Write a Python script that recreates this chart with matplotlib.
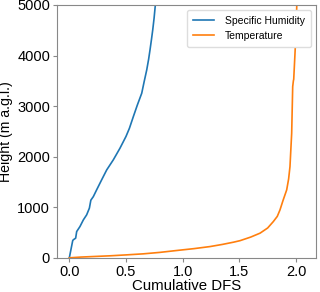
import numpy as np
import matplotlib
matplotlib.use("Agg")
import matplotlib.pyplot as plt

plt.rcParams['font.family'] = ['Liberation Sans', 'DejaVu Sans']

# cumulative DFS vs height
q_dfs = [0.0, 0.03, 0.035, 0.056, 0.065, 0.094, 0.124, 0.153, 0.177, 0.19, 0.212,
         0.241, 0.285, 0.33, 0.388, 0.447, 0.50, 0.53, 0.565, 0.60, 0.639, 0.66,
         0.683, 0.70, 0.712, 0.725, 0.736, 0.748, 0.759]
q_height = [0, 340, 356, 389, 520, 619, 751, 850, 982, 1140, 1211,
            1344, 1541, 1739, 1937, 2168, 2400, 2560, 2793, 3020, 3255, 3480,
            3715, 3930, 4111, 4320, 4506, 4740, 5000]

t_dfs = [0.0, 0.1, 0.359, 0.5, 0.653, 0.8, 0.947, 1.1, 1.242, 1.35, 1.45, 1.507,
         1.6, 1.683, 1.75, 1.80, 1.835, 1.859, 1.885, 1.918, 1.935, 1.947,
         1.962, 1.971, 1.977, 1.98, 2.0, 2.007]
t_height = [0, 15, 40, 58, 79, 108, 145, 182, 223, 265, 310, 340,
            410, 488, 590, 717, 820, 949, 1130, 1344, 1560, 1804,
            2464, 3386, 3500, 3530, 4440, 5000]

fig, ax = plt.subplots(figsize=(3.2, 2.92), dpi=100)
fig.subplots_adjust(left=0.178, right=0.988, top=0.983, bottom=0.117)

ax.plot(q_dfs, q_height, color="#1f77b4", lw=1.2, label="Specific Humidity")
ax.plot(t_dfs, t_height, color="#ff7f0e", lw=1.2, label="Temperature")

ax.set_xlim(-0.109, 2.178)
ax.set_ylim(0, 5000)
ax.set_xticks([0.0, 0.5, 1.0, 1.5, 2.0])
ax.set_yticks([0, 1000, 2000, 3000, 4000, 5000])
ax.set_xlabel("Cumulative DFS", fontsize=10.8, labelpad=0)
ax.set_ylabel("Height (m a.g.l.)", fontsize=10.2, labelpad=3)
ax.tick_params(labelsize=10.5, length=3, color="#888888", pad=2)
for s in ax.spines.values():
    s.set_color("#888888")

ax.legend(loc="upper right", fontsize=7.5, handlelength=2.0, handletextpad=1.1,
          borderpad=0.55, framealpha=1, edgecolor="#dddddd", fancybox=True)

plt.savefig("out.png", dpi=100)
